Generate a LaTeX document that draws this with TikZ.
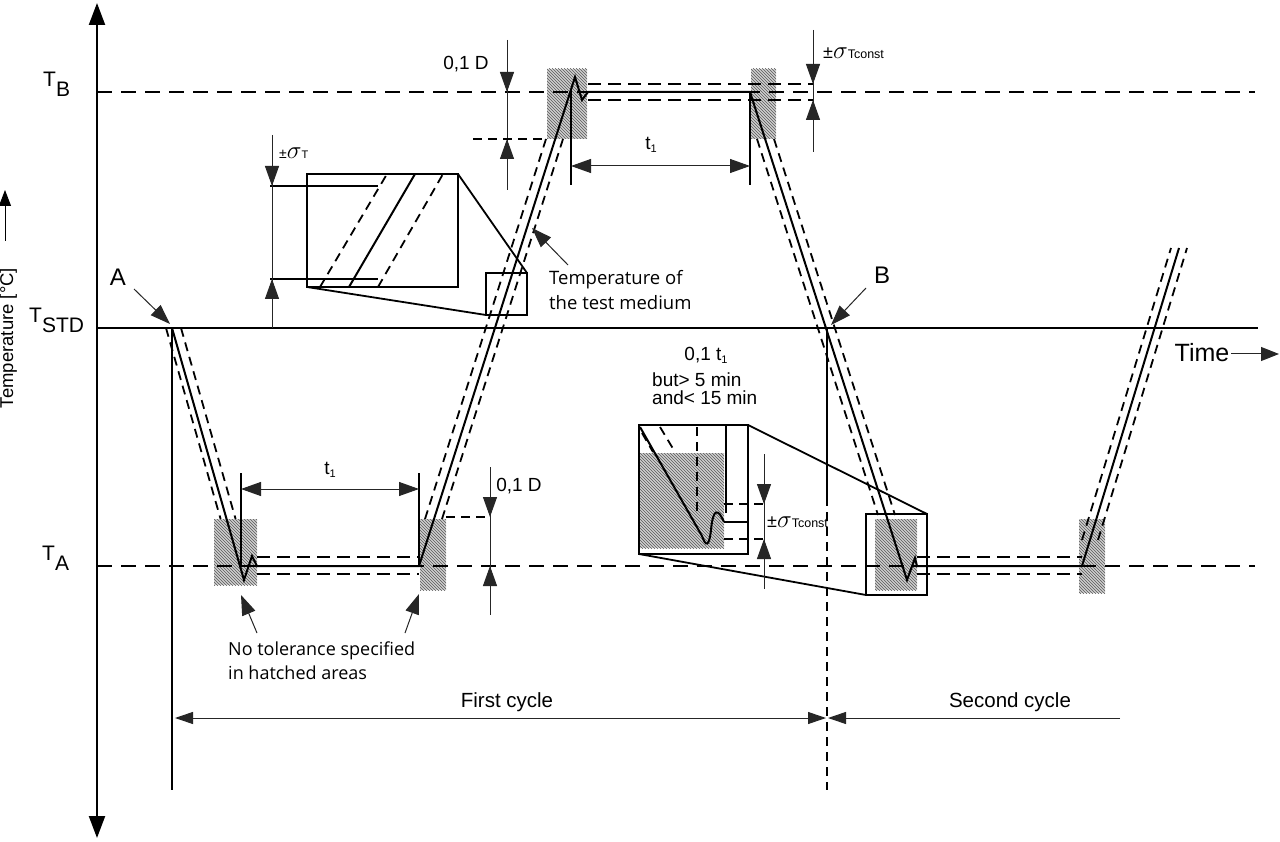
\documentclass[tikz,border=0pt]{standalone}
\usepackage{fontspec}
\setmainfont{Liberation Sans}
\newfontfamily\humfont{Open Sans}
\usetikzlibrary{arrows.meta,patterns}
\newcommand\tone{t{\fontsize{11}{11}\selectfont\raisebox{-3pt}{1}}}
\newcommand\pmsig[4]{{\fontsize{#1}{#1}\selectfont ±}{\fontsize{#2}{#2}\selectfont$\sigma$}{\fontsize{#3}{#3}\selectfont #4}}
\begin{document}
\begin{tikzpicture}[x=1pt,y=-1pt,
  >={Triangle[length=20pt,width=14pt]},
  axisline/.style={line width=2.2pt},
  refdash/.style={line width=1.8pt,dash pattern=on 15pt off 9pt},
  curveline/.style={line width=2pt,line join=miter},
  tolline/.style={line width=1.8pt,dash pattern=on 9pt off 6pt},
  tolplat/.style={line width=1.8pt,dash pattern=on 13pt off 7pt},
  dimline/.style={line width=1pt,draw=black!85},
  extline/.style={line width=1.6pt},
  boxline/.style={line width=2pt},
  hatcharea/.style={fill=gray!38,postaction={pattern=north west lines,pattern color=black!65}},
  lbl/.style={inner sep=0pt,font=\fontsize{19}{19}\selectfont},
  tlbl/.style={inner sep=0pt,anchor=base west,font=\fontsize{21}{21}\selectfont},
  big/.style={inner sep=0pt,font=\fontsize{24}{24}\selectfont},
  hum/.style={inner sep=0pt,align=left,anchor=west,font=\humfont\fontsize{18.5}{24.5}\selectfont},
]
\fill[white] (0,0) rectangle (1280,842);
\useasboundingbox (0,0) rectangle (1280,842);

% hatched areas
\path[hatcharea] (547,69) rectangle (587,139);
\path[hatcharea] (751,69) rectangle (776,139);
\path[hatcharea] (214,519) rectangle (257,585);
\path[hatcharea] (420,519) rectangle (446,590);
\path[hatcharea] (875,519) rectangle (917,590);
\path[hatcharea] (1079,519) rectangle (1105,593);
\path[hatcharea] (640,453) rectangle (724,548);

% axis
\coordinate (ybot) at (97,838);
\coordinate (ytop) at (97,3);
\draw[axisline,{Triangle[length=22pt,width=16pt]}-{Triangle[length=22pt,width=16pt]}] (ybot) -- (ytop);

% reference lines
\draw[refdash] (97,92) -- (1255,92);
\draw[refdash] (97,566) -- (1255,566);
\draw[curveline] (97,328) -- (1258,328);

% axis labels
\node[tlbl] (TB) at (43,87) {T\raisebox{-10pt}{B}};
\node[tlbl] (TSTD) at (29,323) {T\raisebox{-10pt}{STD}};
\node[tlbl] (TA) at (42,560) {T\raisebox{-10pt}{A}};
\node[rotate=90,anchor=base,inner sep=0pt,font=\fontsize{18.5}{18.5}\selectfont] (ylab) at (13,338) {Temperature [°C]};
\coordinate (ya1) at (5,241);
\coordinate (ya2) at (5,190);
\draw[line width=0.9pt,-{Triangle[length=16pt,width=12pt]}] (ya1) -- (ya2);

% main temperature curve
\coordinate (A) at (172,328);
\draw[curveline] (A) -- (244,580) -- (252,556) -- (257,566) -- (419,566)
  -- (575,77) -- (582,100) -- (588,92) -- (750,92)
  -- (907,580) -- (915,558) -- (917,566) -- (1082,566) -- (1179,248);

% tolerance bands on ramps
\draw[tolline] (166,328) -- (220.6,519);
\draw[tolline] (181,328) -- (235.6,519);
\draw[tolline] (425,519) -- (546,139);
\draw[tolline] (442,519) -- (563,139);
\draw[tolline] (757,139) -- (878,515);
\draw[tolline] (774,139) -- (895,515);
\draw[tolline] (1082,540) -- (1171,248);
\draw[tolline] (1098,540) -- (1187,248);

% tolerance bands on plateaus
\draw[tolplat] (588,84) -- (813,84);
\draw[tolplat] (588,100) -- (813,100);
\draw[tolplat] (257,557) -- (419,557);
\draw[tolplat] (257,574) -- (419,574);
\draw[tolplat] (917,557) -- (1082,557);
\draw[tolplat] (917,574) -- (1082,574);

% cycle markers
\draw[line width=1.8pt] (172,328) -- (172,790);
\draw[line width=1.8pt] (827,328) -- (827,497);
\draw[tolline] (827,497) -- (827,790);
\draw[dimline,{Triangle[length=18pt,width=12pt]}-{Triangle[length=18pt,width=12pt]}] (175,718) -- (826,718);
\draw[dimline,-{Triangle[length=18pt,width=12pt]}] (1120,718) -- (828,718);
\node[inner sep=0pt,font=\fontsize{20.5}{20.5}\selectfont] (c1) at (507,702) {First cycle};
\node[inner sep=0pt,font=\fontsize{20.5}{20.5}\selectfont] (c2) at (1010,702) {Second cycle};

% A, B, Time
\node[big] (lA) at (118,277) {A};
\coordinate (Aa) at (134,289);
\coordinate (At) at (170,324);
\draw[dimline,->] (Aa) -- (At);
\node[big] (lB) at (882,275) {B};
\coordinate (Ba) at (866,288);
\coordinate (Bt) at (831,325);
\draw[dimline,->] (Ba) -- (Bt);
\node[inner sep=0pt,font=\fontsize{25}{25}\selectfont] (time) at (1202,353) {Time};
\coordinate (ta) at (1231,354);
\coordinate (tb) at (1279,354);
\draw[dimline,-{Triangle[length=18pt,width=14pt]}] (ta) -- (tb);

% top 0,1 D
\node[lbl] (dtop) at (466,64) {0,1 D};
\draw[dimline] (507,40) -- (507,190);
\draw[dimline,->] (507,62) -- (507,92);
\draw[dimline,->] (507,168) -- (507,139);
\draw[tolline] (473,139) -- (547,139);

% bottom 0,1 D
\node[lbl] (dbot) at (519,486) {0,1 D};
\draw[dimline] (490,467) -- (490,615);
\draw[dimline,->] (490,490) -- (490,517);
\draw[dimline,->] (490,595) -- (490,566);
\draw[tolline] (446,517) -- (490,517);

% top t1
\draw[extline] (571,90) -- (571,185);
\draw[extline] (750,92) -- (750,185);
\draw[dimline,<->] (571,166) -- (750,166);
\node[lbl] (t1top) at (651,145) {\tone};

% bottom t1
\draw[extline] (241,473) -- (241,566);
\draw[extline] (419,473) -- (419,566);
\draw[dimline,<->] (241,489) -- (419,489);
\node[lbl] (t1bot) at (330,470) {\tone};

% top sigma Tconst
\draw[dimline] (813,30) -- (813,152);
\draw[dimline,->] (813,58) -- (813,84);
\draw[dimline,->] (813,126) -- (813,100);
\node[inner sep=0pt,anchor=base west] (stc) at (823,59) {\pmsig{18}{30}{12.5}{Tconst}};

% left inset (sigma T)
\draw[boxline] (307,174) rectangle (458,287);
\draw[boxline] (486,273) rectangle (527,315);
\draw[line width=1.8pt] (458,174) -- (527,273);
\draw[line width=1.8pt] (307,287) -- (486,315);
\draw[curveline] (349,287) -- (415,174);
\draw[tolline] (320,287) -- (387,174);
\draw[tolline] (378,287) -- (443,174);
\draw[line width=1.5pt] (270,186) -- (378,186);
\draw[line width=1.5pt] (270,279) -- (378,279);
\draw[dimline] (272,135) -- (272,328);
\draw[dimline,->] (272,160) -- (272,186);
\draw[dimline,->] (272,305) -- (272,279);
\node[inner sep=0pt,anchor=base west] (st) at (279,159) {\pmsig{14}{26}{11}{T}};

% temperature of the test medium
\node[hum] (medium) at (549,290) {Temperature of\\the test medium};
\coordinate (ma) at (568,265);
\coordinate (mt) at (532,228);
\draw[dimline,->] (ma) -- (mt);

% no tolerance
\node[hum,font=\humfont\fontsize{18}{24}\selectfont] (notol) at (228,661) {No tolerance specified\\in hatched areas};
\coordinate (n1a) at (257,633);
\coordinate (n1t) at (241,595);
\coordinate (n2a) at (405,633);
\coordinate (n2t) at (419,594);
\draw[dimline,->] (n1a) -- (n1t);
\draw[dimline,->] (n2a) -- (n2t);

% 0,1 t1 note
\node[lbl] (n01) at (706,355) {0,1 \tone};
\node[lbl,anchor=west] (n02) at (652,380) {but> 5 min};
\node[lbl,anchor=west] (n03) at (652,398) {and< 15 min};

% right inset (sigma Tconst)
\draw[boxline] (639,425) rectangle (748,554);
\draw[boxline] (866,514) rectangle (927,595);
\draw[line width=1.8pt] (748,425) -- (927,514);
\draw[line width=1.8pt] (639,554) -- (866,595);
\draw[tolline] (697,427) -- (697,513);
\draw[extline] (726,425) -- (726,513);
\draw[extline] (724,522) -- (748,522);
\draw[curveline] (640,427) -- (702,536) .. controls (706,547) and (709,547) .. (711,530) .. controls (713,508) and (718,508) .. (724,522);
\draw[tolline] (642,433) -- (653,452);
\draw[tolline] (660,427) -- (675,452);
\draw[tolline] (724,504) -- (767,504);
\draw[tolline] (724,539) -- (767,539);
\draw[dimline] (764,454) -- (764,589);
\draw[dimline,->] (764,480) -- (764,504);
\draw[dimline,->] (764,563) -- (764,539);
\node[inner sep=0pt,anchor=base west] (stc2) at (767,527) {\pmsig{18}{30}{12.5}{Tconst}};
\end{tikzpicture}
\end{document}
